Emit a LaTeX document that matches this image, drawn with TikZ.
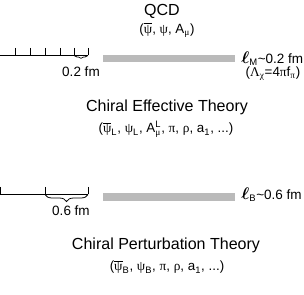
\documentclass[tikz,border=0pt]{standalone}
\usepackage{amsmath,amssymb}
\usepackage{fontspec}
\setmainfont{Liberation Sans}
\newfontfamily\grk{Liberation Serif}
\usepackage{tikz}
\usetikzlibrary{decorations.pathreplacing}

\newcommand{\gk}[1]{{\grk #1}}
\newcommand{\psib}{$\overline{\hbox{\grk ψ}}$}

\begin{document}
\begin{tikzpicture}[
  x=0.025cm, y=-0.025cm,
  ttl/.style={font=\fontsize{11.4}{13}\selectfont, inner sep=0pt},
  fld/.style={font=\fontsize{9.5}{11}\selectfont, inner sep=0pt},
  lab/.style={font=\fontsize{9.6}{11}\selectfont, inner sep=0pt},
  rul/.style={line width=0.55pt},
  bar/.style={line width=5pt, black!27},
  brc/.style={decorate, line width=0.55pt}
]
\useasboundingbox (0,0) rectangle (304,295);

% QCD scale
\node[ttl] (qcd) at (162,11) {QCD};
\node[fld] (qcdf) at (167,30) {(\psib, \gk{ψ}, A\textsubscript{\gk{μ}})};

\draw[rul] (0,55) -- (88,55);
\foreach \x in {15,30,45,60,74,88}
  \draw[rul] (\x,48) -- (\x,55);
\draw[brc, decoration={brace,mirror,amplitude=2pt}] (74,55.5) -- (88,55.5);
\node[lab] (lm) at (81,72) {0.2 fm};
\draw[bar] (103,58.5) -- (235,58.5);
\node[lab, anchor=west] (ellm) at (241,59)
  {{\large$\boldsymbol{\ell}$}\textsubscript{M}\textasciitilde0.2 fm};
\node[fld, anchor=north] (lchi) at (273,67)
  {(\gk{Λ}\textsubscript{\gk{χ}}=4\gk{π}f\textsubscript{\gk{π}})};

% chiral effective theory
\node[ttl] (cet) at (167,107) {Chiral Effective Theory};
\node[fld] (cetf) at (166,129)
  {(\psib\textsubscript{L}, \gk{ψ}\textsubscript{L},
   $\text{A}^{\text{L}}_{\text{\grk μ}}$, \gk{π}, \gk{ρ}, a\textsubscript{1}, ...)};

\draw[rul] (0,194) -- (88,194);
\foreach \x in {0,45,88}
  \draw[rul] (\x,187) -- (\x,194);
\draw[brc, decoration={brace,mirror,amplitude=5pt}] (45,194.5) -- (88,194.5);
\node[lab] (lb) at (71,211) {0.6 fm};
\draw[bar] (103,197) -- (235,197);
\node[lab, anchor=west] (ellb) at (241,195)
  {{\large$\boldsymbol{\ell}$}\textsubscript{B}\textasciitilde0.6 fm};

% chiral perturbation theory
\node[ttl] (cpt) at (166,245) {Chiral Perturbation Theory};
\node[fld] (cptf) at (167,267)
  {(\psib\textsubscript{B}, \gk{ψ}\textsubscript{B}, \gk{π}, \gk{ρ}, a\textsubscript{1}, ...)};
\end{tikzpicture}
\end{document}
